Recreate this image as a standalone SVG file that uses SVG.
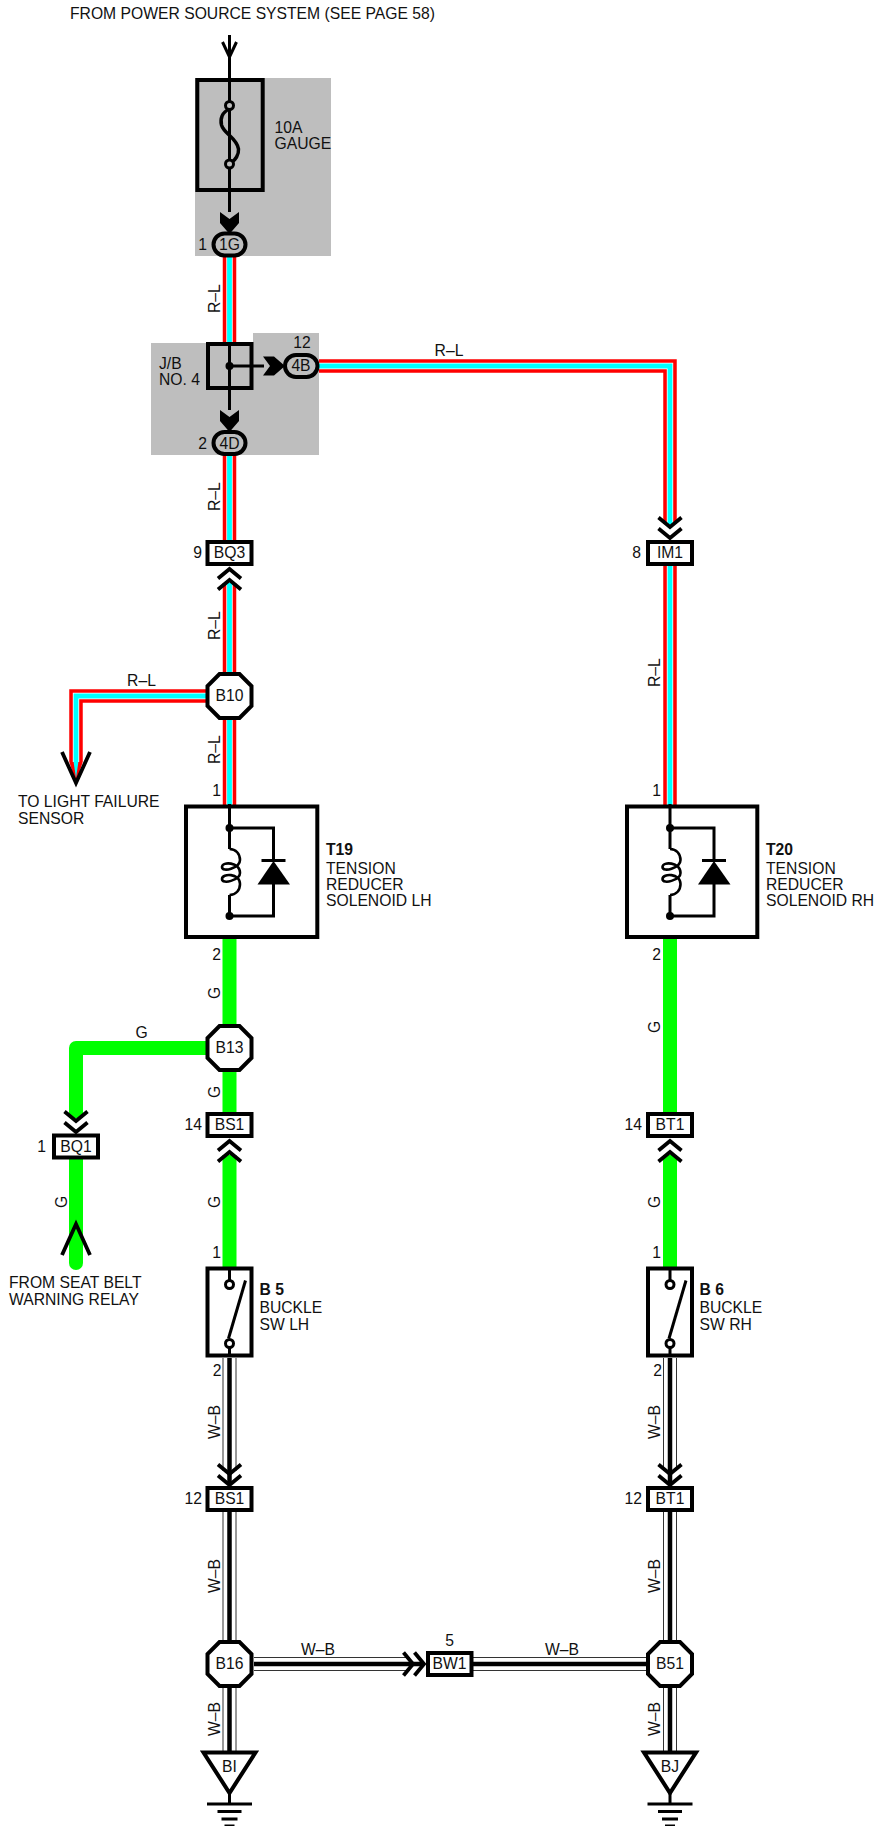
<svg xmlns="http://www.w3.org/2000/svg" xmlns:xlink="http://www.w3.org/1999/xlink" width="875" height="1826" viewBox="0 0 875 1826">
<style>
text{font-family:"Liberation Sans",Arial,sans-serif;font-size:15.7px;fill:#111}
.m{text-anchor:middle}.e{text-anchor:end}.b{font-weight:bold}
.red,.wg,.cy,.gr,.wo,.wi,.wc,.ln,.th{fill:none}
.red{stroke:#f00;stroke-width:13.5}
.wg{stroke:#fff;stroke-width:6.4}
.cy{stroke:#0ff;stroke-width:4.8}
.gr{stroke:#0f0;stroke-width:14;stroke-linejoin:round}
.wo{stroke:#333;stroke-width:14}
.wi{stroke:#fff;stroke-width:12}
.wc{stroke:#000;stroke-width:4.5}
.th{stroke:#000;stroke-width:3}
.chev{fill:none;stroke:#000;stroke-width:3.8}
.box{fill:#fff;stroke:#000;stroke-width:4}
.gbox{fill:#bebebe;stroke:#000;stroke-width:4}
.dot{fill:#000}
.ring{fill:#fff;stroke:#000;stroke-width:3}
</style>
<defs>
<path id="dchev" class="chev" d="M-11.500-9.500L0 0L11.500-9.500M-11.500-20.500L0-11L11.500-20.500"/>
<polygon id="bchev" fill="#000" points="-9.500,-21 0,-14 9.500,-21 9.500,-10 0,1 -9.500,-10"/>
<path id="oarrow" class="chev" d="M-14-31L0 0L14-31"/>
<polygon id="oct" class="box" points="-10,-22 10,-22 22,-10 22,10 10,22 -10,22 -22,10 -22,-10"/>
<g id="solenoid">
<path class="th" d="M0-112V-67M0-21V0"/>
<path class="th" d="M0-88H44V-55M44-32V0H0"/>
<path d="M0-67C6.500-67 10.500-62 10.500-56C10.500-48-7.500-43-7.500-49C-7.500-55 10.500-54 10.500-43C10.500-36-7.500-31-7.500-37C-7.500-43 10.500-43 10.500-32C10.500-26 6.500-21 0-21" fill="none" stroke="#000" stroke-width="2.600"/>
<circle class="dot" cx="0" cy="-88" r="4"/><circle class="dot" cx="0" cy="0" r="4"/>
<polygon fill="#000" points="44,-55 60.500,-31.500 28,-31.500"/>
<path class="th" d="M32-55.500H56"/>
</g>
<g id="switch">
<rect class="box" x="-22" y="0" width="44" height="87"/>
<path class="th" d="M0 0V12M0 79V87"/>
<path class="th" d="M16 12L-1 70"/>
<circle class="ring" cx="0" cy="16" r="4"/><circle class="ring" cx="0" cy="75" r="4"/>
</g>
<g id="ground">
<polygon class="box" points="-26,-50.500 26,-50.500 0,-10"/>
<path class="th" d="M0-10V1M-22.500 1H22.500M-12 8.500H12M-8 16H8M-5 23H5"/>
</g>
</defs>

<g id="backgrounds">
<rect x="195" y="78" width="136" height="178" fill="#bebebe"/>
<polygon points="151,343 253,343 253,333 319,333 319,455 151,455" fill="#bebebe"/>
</g>

<g id="connectors">
<!-- R-L wires -->
<path class="red" d="M229.500 257V342M229.500 455V540M229.500 583V672M229.500 720V805M670 565V805M319 366H670V524M206 696H76V762"/>
<polygon fill="#f00" points="69.300,762 82.700,762 76,783"/>
<path class="wg" d="M229.500 257V342M229.500 455V540M229.500 583V672M229.500 720V805M670 565V805M319 366H670V524M206 696H76V762"/>
<path class="cy" d="M229.500 257V342M229.500 455V540M229.500 583V672M229.500 720V805M670 565V805M319 366H670V524M206 696H76V762"/>
<polygon fill="#0ff" points="73.600,762 78.400,762 76,778"/>
<!-- G wires -->
<path class="gr" d="M229.500 937V1113M206 1048H76V1118M76 1159V1263M229.500 1155V1267M670 937V1113M670 1155V1267"/>
<circle cx="76" cy="1263" r="7" fill="#0f0"/>
<!-- W-B wires -->
<path class="wo" d="M229.500 1358V1471M229.500 1511V1640M229.500 1688V1752M254 1664H410M473 1664H646M670 1358V1471M670 1511V1640M670 1688V1752"/>
<path class="wi" d="M229.500 1358V1471M229.500 1511V1640M229.500 1688V1752M254 1664H410M473 1664H646M670 1358V1471M670 1511V1640M670 1688V1752"/>
<path class="wc" d="M229.500 1358V1485M229.500 1511V1640M229.500 1688V1752M254 1664H424M473 1664H646M670 1358V1485M670 1511V1640M670 1688V1752"/>
<!-- plain wires -->
<path class="th" d="M229.500 35V212M229.500 342V410M229.500 366H264"/>
<path class="th" d="M222.500 42L229.500 57L236.500 42"/>
<!-- arrowheads -->
<use xlink:href="#bchev" transform="translate(229.500,233)"/>
<use xlink:href="#bchev" transform="translate(229.500,431)"/>
<use xlink:href="#bchev" transform="translate(284,366) rotate(-90)"/>
<use xlink:href="#dchev" transform="translate(229.500,569) rotate(180)"/>
<use xlink:href="#dchev" transform="translate(670,538)"/>
<use xlink:href="#dchev" transform="translate(76,1132)"/>
<use xlink:href="#dchev" transform="translate(229.500,1141) rotate(180)"/>
<use xlink:href="#dchev" transform="translate(670,1141) rotate(180)"/>
<use xlink:href="#dchev" transform="translate(229.500,1485)"/>
<use xlink:href="#dchev" transform="translate(670,1485)"/>
<use xlink:href="#dchev" transform="translate(424,1664) rotate(-90)"/>
<use xlink:href="#oarrow" transform="translate(76,783)"/>
<use xlink:href="#oarrow" transform="translate(76,1224) rotate(180)"/>
<!-- wire labels -->
<text transform="translate(220,313) rotate(-90)">R–L</text>
<text transform="translate(220,511) rotate(-90)">R–L</text>
<text transform="translate(220,640) rotate(-90)">R–L</text>
<text transform="translate(220,764) rotate(-90)">R–L</text>
<text transform="translate(660,687) rotate(-90)">R–L</text>
<text class="m" x="449" y="356">R–L</text>
<text class="m" x="141.500" y="686">R–L</text>
<text class="m" transform="translate(220,993) rotate(-90)">G</text>
<text class="m" transform="translate(220,1092) rotate(-90)">G</text>
<text class="m" transform="translate(220,1202) rotate(-90)">G</text>
<text class="m" transform="translate(66.500,1202) rotate(-90)">G</text>
<text class="m" transform="translate(660,1027) rotate(-90)">G</text>
<text class="m" transform="translate(660,1202) rotate(-90)">G</text>
<text class="m" x="141.500" y="1038">G</text>
<text class="m" transform="translate(219.500,1422) rotate(-90)">W–B</text>
<text class="m" transform="translate(219.500,1576) rotate(-90)">W–B</text>
<text class="m" transform="translate(219.500,1719) rotate(-90)">W–B</text>
<text class="m" transform="translate(660,1422) rotate(-90)">W–B</text>
<text class="m" transform="translate(660,1576) rotate(-90)">W–B</text>
<text class="m" transform="translate(660,1719) rotate(-90)">W–B</text>
<text class="m" x="318" y="1655">W–B</text>
<text class="m" x="562" y="1655">W–B</text>
</g>

<g id="source-label"><text x="70" y="19">FROM POWER SOURCE SYSTEM (SEE PAGE 58)</text></g>

<g id="fuse">
<rect x="197.300" y="80" width="65.400" height="110" fill="none" stroke="#000" stroke-width="4"/>
<path d="M229.500 109C222 112 220 119 221.500 125C224 134 237 138 238.500 149C239 155 235 160 232 162" fill="none" stroke="#000" stroke-width="3.500"/>
<circle cx="229.500" cy="105.500" r="4" fill="#bebebe" stroke="#000" stroke-width="3"/>
<circle cx="229.500" cy="164" r="4" fill="#bebebe" stroke="#000" stroke-width="3"/>
<text x="274.500" y="133">10A</text><text x="274.500" y="149">GAUGE</text>
</g>
<g id="conn-1G"><rect class="gbox" x="213.500" y="233.500" width="32" height="22" rx="11"/><text class="m" x="229.500" y="250">1G</text><text class="e" x="207" y="250">1</text></g>
<g id="jb4">
<rect x="208" y="344" width="43.500" height="44" fill="none" stroke="#000" stroke-width="4"/>
<circle class="dot" cx="229.500" cy="366" r="4"/>
<text x="159" y="369">J/B</text><text x="159" y="385">NO. 4</text>
</g>
<g id="conn-4B"><rect class="gbox" x="285" y="355" width="32.500" height="22" rx="11"/><text class="m" x="301" y="371">4B</text><text class="m" x="302" y="348">12</text></g>
<g id="conn-4D"><rect class="gbox" x="213.500" y="432" width="32" height="22" rx="11"/><text class="m" x="229.500" y="449">4D</text><text class="e" x="207" y="449">2</text></g>
<g id="conn-BQ3"><rect class="box" x="207.500" y="542" width="44" height="22"/><text class="m" x="229.500" y="558">BQ3</text><text class="e" x="202" y="558">9</text></g>
<g id="conn-IM1"><rect class="box" x="648" y="542" width="44" height="22"/><text class="m" x="670" y="558">IM1</text><text class="e" x="641" y="558">8</text></g>
<g id="B10"><use xlink:href="#oct" transform="translate(229.500,696)"/><text class="m" x="229.500" y="701">B10</text></g>
<g id="light-failure-label"><text x="18" y="807">TO LIGHT FAILURE</text><text x="18" y="824">SENSOR</text></g>
<g id="T19">
<rect class="box" x="186" y="806.500" width="131.300" height="130.500"/>
<use xlink:href="#solenoid" transform="translate(229.500,916)"/>
<text class="e" x="221" y="796">1</text><text class="e" x="221" y="960">2</text>
<text class="b" x="326" y="855">T19</text><text x="326" y="874">TENSION</text><text x="326" y="890">REDUCER</text><text x="326" y="906">SOLENOID LH</text>
</g>
<g id="T20">
<rect class="box" x="627" y="806.500" width="130.300" height="130.500"/>
<use xlink:href="#solenoid" transform="translate(670,916)"/>
<text class="e" x="661" y="796">1</text><text class="e" x="661" y="960">2</text>
<text class="b" x="766" y="855">T20</text><text x="766" y="874">TENSION</text><text x="766" y="890">REDUCER</text><text x="766" y="906">SOLENOID RH</text>
</g>
<g id="B13"><use xlink:href="#oct" transform="translate(229.500,1048)"/><text class="m" x="229.500" y="1053">B13</text></g>
<g id="conn-BS1-14"><rect class="box" x="207.500" y="1114" width="44" height="22"/><text class="m" x="229.500" y="1130">BS1</text><text class="e" x="202" y="1130">14</text></g>
<g id="conn-BT1-14"><rect class="box" x="648" y="1114" width="44" height="22"/><text class="m" x="670" y="1130">BT1</text><text class="e" x="642" y="1130">14</text></g>
<g id="conn-BQ1"><rect class="box" x="54" y="1135.500" width="44" height="22"/><text class="m" x="76" y="1152">BQ1</text><text class="e" x="46" y="1152">1</text></g>
<g id="seat-belt-label"><text x="9" y="1288">FROM SEAT BELT</text><text x="9" y="1305">WARNING RELAY</text></g>
<g id="B5">
<use xlink:href="#switch" transform="translate(229.500,1268.500)"/>
<text class="e" x="221" y="1258">1</text><text class="e" x="221.500" y="1376">2</text>
<text class="b" x="259.500" y="1295">B 5</text><text x="259.500" y="1313">BUCKLE</text><text x="259.500" y="1330">SW LH</text>
</g>
<g id="B6">
<use xlink:href="#switch" transform="translate(670,1268.500)"/>
<text class="e" x="661" y="1258">1</text><text class="e" x="662" y="1376">2</text>
<text class="b" x="699.500" y="1295">B 6</text><text x="699.500" y="1313">BUCKLE</text><text x="699.500" y="1330">SW RH</text>
</g>
<g id="conn-BS1-12"><rect class="box" x="207.500" y="1488" width="44" height="22"/><text class="m" x="229.500" y="1504">BS1</text><text class="e" x="202" y="1504">12</text></g>
<g id="conn-BT1-12"><rect class="box" x="648" y="1488" width="44" height="22"/><text class="m" x="670" y="1504">BT1</text><text class="e" x="642" y="1504">12</text></g>
<g id="B16"><use xlink:href="#oct" transform="translate(229.500,1664)"/><text class="m" x="229.500" y="1669">B16</text></g>
<g id="B51"><use xlink:href="#oct" transform="translate(670,1664)"/><text class="m" x="670" y="1669">B51</text></g>
<g id="conn-BW1"><rect class="box" x="428" y="1653" width="43.500" height="22"/><text class="m" x="449.500" y="1669">BW1</text><text class="m" x="449.500" y="1646">5</text></g>
<g id="BI"><use xlink:href="#ground" transform="translate(229.500,1803)"/><text class="m" x="229.500" y="1772">BI</text></g>
<g id="BJ"><use xlink:href="#ground" transform="translate(670,1803)"/><text class="m" x="670" y="1772">BJ</text></g>
</svg>
